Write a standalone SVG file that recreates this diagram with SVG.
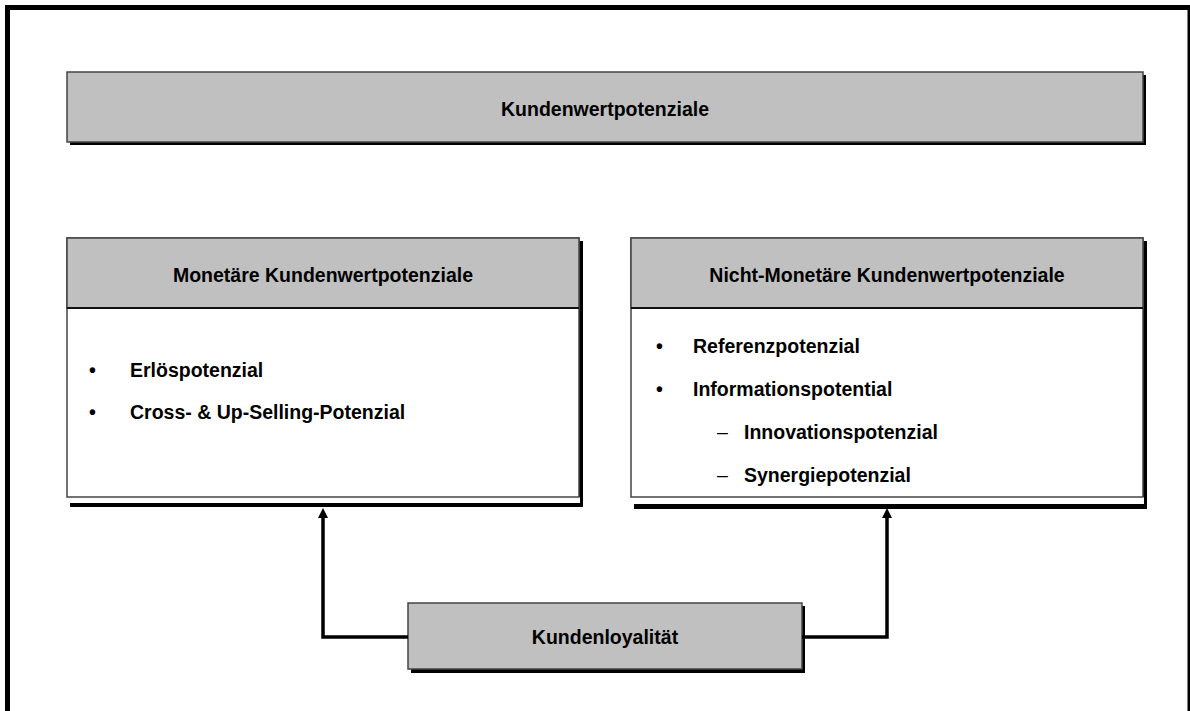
<svg xmlns="http://www.w3.org/2000/svg" width="1190" height="711" viewBox="0 0 1190 711">
  <defs>
    <style>
      .shadow { fill: #000; }
      .gray { fill: #c0c0c0; stroke: #444; stroke-width: 1.5; }
      .white { fill: #fff; stroke: #444; stroke-width: 1.5; }
      .t { font-family: "Liberation Sans", Arial, sans-serif; font-weight: bold; font-size: 19.5px; fill: #000; }
      .c { text-anchor: middle; }
      .dash { font-family: "Liberation Sans", Arial, sans-serif; font-weight: normal; font-size: 19.5px; fill: #000; }
      .conn { fill: none; stroke: #000; stroke-width: 3.5; }
    </style>
    <marker id="arr" markerUnits="userSpaceOnUse" markerWidth="12" markerHeight="12" viewBox="0 0 10 10" refX="5" refY="1" orient="auto-start-reverse">
      <path d="M0,10 L5,0 L10,10 Z" fill="#000"/>
    </marker>
  </defs>
  <rect x="0" y="0" width="1190" height="711" fill="#fff"/>
  <rect x="7.5" y="7.5" width="1182.5" height="720" fill="none" stroke="#000" stroke-width="5"/>

  <g id="kundenwertpotenziale">
    <rect class="shadow" x="70" y="75" width="1076" height="70"/>
    <rect class="gray" x="67" y="72" width="1076" height="70"/>
    <text class="t c" x="605" y="116">Kundenwertpotenziale</text>
  </g>

  <g id="monetaer">
    <rect class="shadow" x="70" y="241" width="513" height="266"/>
    <rect x="67" y="497" width="513" height="6" fill="#fff"/>
    <rect class="white" x="67" y="238" width="512" height="259"/>
    <rect class="gray" x="67" y="238" width="512" height="70"/>
    <line x1="67" y1="308" x2="579" y2="308" stroke="#111" stroke-width="2"/>
    <text class="t c" x="323" y="282">Monetäre Kundenwertpotenziale</text>
    <text class="t" x="89" y="377">•</text>
    <text class="t" x="130" y="377">Erlöspotenzial</text>
    <text class="t" x="89" y="419">•</text>
    <text class="t" x="130" y="419">Cross- &amp; Up-Selling-Potenzial</text>
  </g>

  <g id="nichtmonetaer">
    <rect class="shadow" x="634" y="241" width="513" height="268"/>
    <rect x="631" y="497" width="513" height="7" fill="#fff"/>
    <rect class="white" x="631" y="238" width="512" height="259"/>
    <rect class="gray" x="631" y="238" width="512" height="70"/>
    <line x1="631" y1="308" x2="1143" y2="308" stroke="#111" stroke-width="2"/>
    <text class="t c" x="887" y="282">Nicht-Monetäre Kundenwertpotenziale</text>
    <text class="t" x="656" y="353">•</text>
    <text class="t" x="693" y="353">Referenzpotenzial</text>
    <text class="t" x="656" y="396">•</text>
    <text class="t" x="693" y="396">Informationspotential</text>
    <text class="dash" x="717" y="439">–</text>
    <text class="t" x="744" y="439">Innovationspotenzial</text>
    <text class="dash" x="717" y="482">–</text>
    <text class="t" x="744" y="482">Synergiepotenzial</text>
  </g>

  <g id="kundenloyalitaet">
    <rect class="shadow" x="411" y="606" width="394" height="67"/>
    <rect class="gray" x="408" y="603" width="394" height="66"/>
    <text class="t c" x="605" y="644">Kundenloyalität</text>
  </g>

  <g id="connectors">
    <path class="conn" d="M408,637 H323 V517"/>
    <polygon points="323,508 318,518 328,518" fill="#000"/>
    <path class="conn" d="M802,637 H887 V517"/>
    <polygon points="887,508 882,518 892,518" fill="#000"/>
  </g>
</svg>
